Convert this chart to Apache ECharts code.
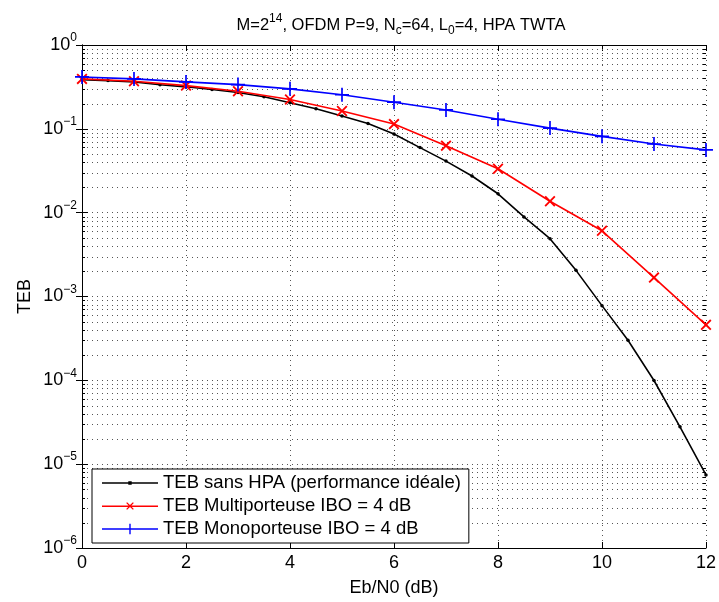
<!DOCTYPE html>
<html>
<head>
<meta charset="utf-8">
<script src="https://cdn.jsdelivr.net/npm/echarts@6/dist/echarts.min.js"></script>
<style>
html,body{margin:0;padding:0;background:#fff;}
#chart{width:719px;height:602px;}
</style>
</head>
<body>
<div id="chart"></div>
<script>
// ---- data ----
const ebn0Ideal = [0,0.5,1,1.5,2,2.5,3,3.5,4,4.5,5,5.5,6,6.5,7,7.5,8,8.5,9,9.5,10,10.5,11,11.5,12];
const tebIdeal = [0.386,0.376,0.363,0.335,0.317,0.294,0.271,0.241,0.205,0.174,0.142,0.116,0.0866,0.0597,0.0412,0.0274,0.0168,0.00889,0.00489,0.00205,0.000778,0.000301,0.0000995,0.0000279,0.00000745];
const ebn0 = [0,1,2,3,4,5,6,7,8,9,10,11,12];
const tebMulti = [0.394,0.369,0.328,0.281,0.224,0.163,0.114,0.063,0.0334,0.0137,0.00608,0.00168,0.000459];
const tebMono = [0.416,0.394,0.363,0.337,0.300,0.255,0.208,0.168,0.130,0.102,0.0813,0.0659,0.0561];
const seriesNames = ['TEB sans HPA (performance idéale)','TEB Multiporteuse IBO = 4 dB','TEB Monoporteuse IBO = 4 dB'];
const xMin = 0, xMax = 12, xStep = 2;
const yMin = 1e-6, yMax = 1;
const minorMantissas = [2,3,4,5,6,7,8,9];
const decadeExponents = [-6,-5,-4,-3,-2,-1];
const titleText = 'M=2{sup|14}, OFDM P=9, N{sub|c}=64, L{sub|0}=4, HPA TWTA';
const xName = 'Eb/N0 (dB)';
const yName = 'TEB';

// minor log grid values (2..9 x 10^e)
const minorValues = [];
decadeExponents.forEach(e => minorMantissas.forEach(m => minorValues.push([xMin, m * Math.pow(10, e)])));

const FONT = 'Liberation Sans, Arial, Helvetica, sans-serif';
const GRID_COLOR = '#555';
const GRID_DASH = [1, 4];

function pair(xs, ys) { return xs.map((x, i) => [x, ys[i]]); }

function renderMinor(params, api) {
  const v = api.value(1);
  const a = api.coord([xMin, v]);
  const b = api.coord([xMax, v]);
  const y = Math.round(a[1]) + 0.5;
  return {
    type: 'group',
    children: [
      {type: 'line', shape: {x1: a[0], y1: y, x2: b[0], y2: y}, style: {stroke: GRID_COLOR, lineWidth: 1, lineDash: GRID_DASH}},
      {type: 'line', shape: {x1: a[0], y1: y, x2: a[0] + 3, y2: y}, style: {stroke: '#000', lineWidth: 1}},
      {type: 'line', shape: {x1: b[0] - 3, y1: y, x2: b[0], y2: y}, style: {stroke: '#000', lineWidth: 1}}
    ]
  };
}

const expLabel = v => {
  const e = Math.round(Math.log10(v));
  return '{b|10}{s|' + (e < 0 ? '\u2212' + (-e) : e) + '}';
};

const X_SYMBOL = 'path://M0,1.2L1.2,0L5,3.8L8.8,0L10,1.2L6.2,5L10,8.8L8.8,10L5,6.2L1.2,10L0,8.8L3.8,5Z';
const PLUS_SYMBOL = 'path://M4.4,0H5.6V4.4H10V5.6H5.6V10H4.4V5.6H0V4.4H4.4Z';
// legend icons: line sample (56 wide) with a small marker in the middle
const LEG_DOT = 'path://M0,5.2H56V6.8H0Z M26.3,4.3H29.7V7.7H26.3Z';
const LEG_X = 'path://M0,5.2H56V6.8H0Z M24.2,2.9L25.1,2L28,4.9L30.9,2L31.8,2.9L28.9,5.8L31.8,8.7L30.9,9.6L28,6.7L25.1,9.6L24.2,8.7L27.1,5.8Z';
const LEG_PLUS = 'path://M0,5.2H56V6.8H0Z M27.3,0.8H28.7V5.2H33V6.8H28.7V11.2H27.3V6.8H23V5.2H27.3Z';

const chart = echarts.init(document.getElementById('chart'), null, {renderer: 'canvas'});
chart.setOption({
  animation: false,
  backgroundColor: '#fff',
  textStyle: {fontFamily: FONT, color: '#000'},
  title: {
    text: titleText,
    left: 396, top: 8, textAlign: 'center',
    textStyle: {
      fontFamily: FONT, fontWeight: 'normal', fontSize: 16.5, color: '#000',
      rich: {
        sup: {fontSize: 12, padding: [0, 0, 12, 0], fontFamily: FONT},
        sub: {fontSize: 12, padding: [12, 0, 0, 0], fontFamily: FONT}
      }
    }
  },
  grid: {left: 82, right: 10, top: 45, bottom: 49, containLabel: false},
  legend: {
    data: [
      {name: seriesNames[0], icon: LEG_DOT},
      {name: seriesNames[1], icon: LEG_X},
      {name: seriesNames[2], icon: LEG_PLUS}
    ],
    orient: 'vertical',
    left: 92, top: 469,
    backgroundColor: '#fff',
    borderColor: '#000', borderWidth: 1, borderRadius: 0,
    padding: [4, 8, 4, 10],
    itemGap: 3,
    itemWidth: 56, itemHeight: 12,
    textStyle: {fontFamily: FONT, fontSize: 18.5, color: '#000', lineHeight: 20}
  },
  xAxis: [{
    type: 'value', min: xMin, max: xMax, interval: xStep,
    name: xName, nameLocation: 'middle', nameGap: 31,
    nameTextStyle: {fontFamily: FONT, fontSize: 18, color: '#000'},
    axisLine: {lineStyle: {color: '#000', width: 1}},
    axisTick: {inside: true, length: 6, lineStyle: {color: '#000'}},
    axisLabel: {fontFamily: FONT, fontSize: 18, color: '#000', margin: 6},
    splitLine: {show: true, lineStyle: {color: GRID_COLOR, type: GRID_DASH, width: 1}}
  }, {
    type: 'value', position: 'top', min: xMin, max: xMax, interval: xStep,
    axisLine: {lineStyle: {color: '#000', width: 1}},
    axisTick: {inside: true, length: 6, lineStyle: {color: '#000'}},
    axisLabel: {show: false}, splitLine: {show: false}
  }],
  yAxis: [{
    type: 'log', logBase: 10, min: yMin, max: yMax, interval: 1,
    name: yName, nameLocation: 'middle', nameGap: 48, nameRotate: 90, nameMoveOverlap: false,
    nameTextStyle: {fontFamily: FONT, fontSize: 18, color: '#000'},
    axisLine: {show: true, lineStyle: {color: '#000', width: 1}},
    axisTick: {inside: true, length: 6, lineStyle: {color: '#000'}},
    axisLabel: {
      formatter: expLabel, margin: 5,
      rich: {
        b: {fontFamily: FONT, fontSize: 18, color: '#000'},
        s: {fontFamily: FONT, fontSize: 12, color: '#000', padding: [0, 0, 14, 0]}
      }
    },
    splitLine: {show: true, lineStyle: {color: GRID_COLOR, type: GRID_DASH, width: 1}}
  }, {
    type: 'log', logBase: 10, min: yMin, max: yMax, interval: 1, position: 'right',
    axisLine: {show: true, lineStyle: {color: '#000', width: 1}},
    axisTick: {inside: true, length: 6, lineStyle: {color: '#000'}},
    axisLabel: {show: false}, splitLine: {show: false}
  }],
  series: [{
    type: 'custom', name: 'minorGrid', silent: true, z: 1,
    xAxisIndex: 0, yAxisIndex: 0,
    renderItem: renderMinor, data: minorValues, encode: {x: 0, y: 1}
  }, {
    type: 'line', name: seriesNames[0], data: pair(ebn0Ideal, tebIdeal), z: 3,
    symbol: 'circle', symbolSize: 3.5, showSymbol: true,
    lineStyle: {color: '#000', width: 1.6},
    itemStyle: {color: '#000'}
  }, {
    type: 'line', name: seriesNames[1], data: pair(ebn0, tebMulti), z: 4,
    symbol: X_SYMBOL, symbolSize: 11,
    lineStyle: {color: '#ff0000', width: 1.6},
    itemStyle: {color: '#ff0000'}
  }, {
    type: 'line', name: seriesNames[2], data: pair(ebn0, tebMono), z: 5,
    symbol: PLUS_SYMBOL, symbolSize: 14,
    lineStyle: {color: '#0000ff', width: 1.6},
    itemStyle: {color: '#0000ff'}
  }]
});
</script>
</body>
</html>
